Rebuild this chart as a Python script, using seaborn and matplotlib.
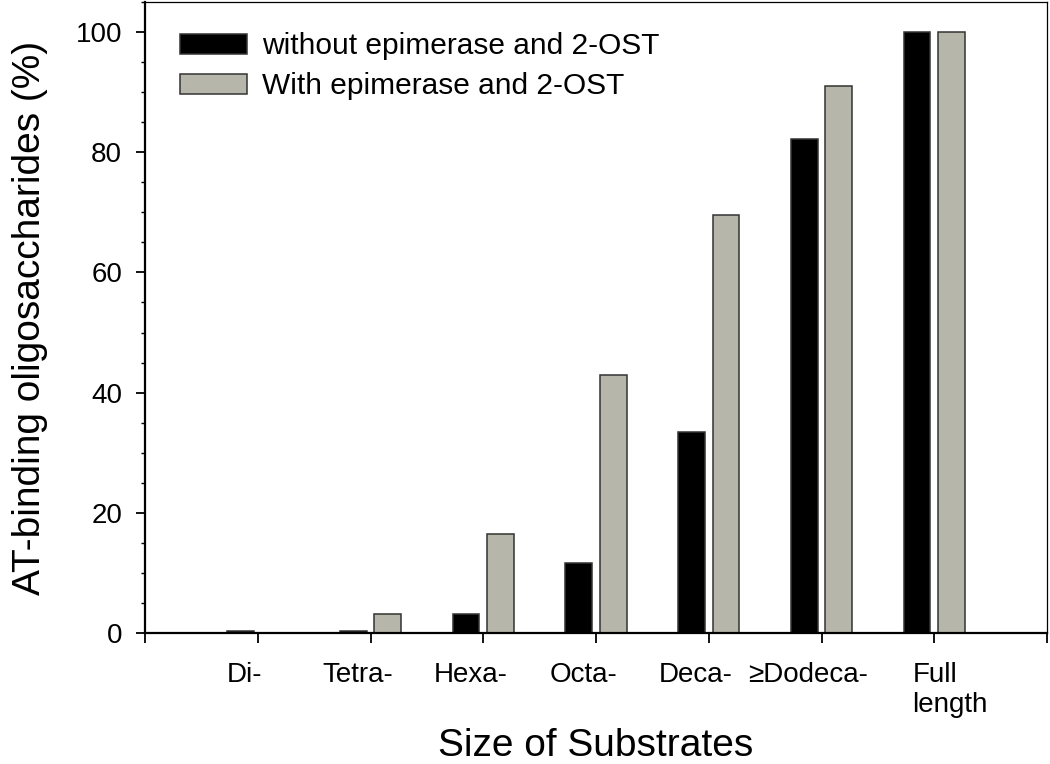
import pandas as pd
import matplotlib
matplotlib.use("Agg")
import matplotlib.pyplot as plt
from matplotlib.patches import Patch
from matplotlib.ticker import MultipleLocator
import seaborn as sns


sizes = ["Di-", "Tetra-", "Hexa-", "Octa-", "Deca-", "\u2265Dodeca-", "Full\nlength"]
without_enzymes = [0.3, 0.3, 3.1, 11.7, 33.5, 82.2, 100.0]
with_enzymes = [0.0, 3.1, 16.5, 42.9, 69.6, 91.1, 100.0]
series_names = ["without epimerase and 2-OST", "With epimerase and 2-OST"]
y_ticks = [0, 20, 40, 60, 80, 100]

bar_colors = ["black", "#b6b6aa"]
edge_color = "#333333"

df = pd.DataFrame(
    {
        "size": sizes * 2,
        "value": without_enzymes + with_enzymes,
        "group": [series_names[0]] * len(sizes) + [series_names[1]] * len(sizes),
    }
)

sns.set_theme(style="ticks")
plt.rcParams["font.family"] = ["Liberation Sans", "DejaVu Sans"]
plt.rcParams["text.color"] = "black"

fig = plt.figure(figsize=(10.5, 7.64), dpi=100)
ax = fig.add_axes([145 / 1050, 1 - 633 / 764, (1047 - 145) / 1050, (633 - 2) / 764])

sns.barplot(
    data=df,
    x="size",
    y="value",
    hue="group",
    order=sizes,
    hue_order=series_names,
    palette=dict(zip(series_names, bar_colors)),
    saturation=1,
    width=0.61,
    gap=0.22,
    edgecolor=edge_color,
    linewidth=1.1,
    legend=False,
    ax=ax,
)

# --- axes ---
ax.set_ylim(0, 105)
ax.set_yticks(y_ticks)
ax.yaxis.set_minor_locator(MultipleLocator(5))
ax.set_xlim(-1, len(sizes))

# major ticks sit between the groups, labels go on (hidden) minor ticks
ax.set_xticks(range(-1, len(sizes) + 1))
ax.set_xticklabels([])
label_pos = [i - 0.115 for i in range(len(sizes) - 1)] + [len(sizes) - 1 + 0.14]
ax.set_xticks(label_pos, minor=True)
ax.set_xticklabels(sizes, minor=True)
for lab in ax.get_xticklabels(minor=True):
    lab.set_multialignment("left")

ax.tick_params(axis="x", which="major", direction="out", length=7, width=1.3,
               color="black", bottom=True)
ax.tick_params(axis="x", which="minor", length=0, labelsize=20, pad=21,
               labelcolor="black")
ax.tick_params(axis="y", which="major", direction="out", length=6.5, width=1.3,
               color="black", labelsize=20, pad=10, labelcolor="black", left=True)
ax.tick_params(axis="y", which="minor", direction="out", length=3, width=1,
               color="black", left=True)

for side in ["left", "bottom"]:
    ax.spines[side].set_linewidth(1.6)
    ax.spines[side].set_color("black")
for side in ["top", "right"]:
    ax.spines[side].set_visible(True)
    ax.spines[side].set_linewidth(0.9)
    ax.spines[side].set_color("black")

ax.set_ylabel("AT-binding oligosaccharides (%)", fontsize=28, labelpad=20, color="black")
ax.set_xlabel("Size of Substrates", fontsize=28, labelpad=7, color="black")

handles = [Patch(facecolor=c, edgecolor=edge_color, linewidth=1.1) for c in bar_colors]
ax.legend(
    handles,
    series_names,
    loc="upper left",
    bbox_to_anchor=(0.039, 0.952),
    frameon=False,
    fontsize=21.5,
    labelcolor="black",
    handlelength=2.25,
    handleheight=0.67,
    handletextpad=0.5,
    labelspacing=0.4,
    borderpad=0,
    borderaxespad=0,
)

fig.savefig("out.png", dpi=100)
